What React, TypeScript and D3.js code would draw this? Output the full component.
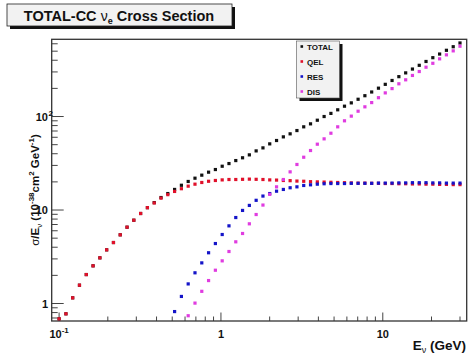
import React, { useEffect, useRef } from "react";
import * as d3 from "d3";

// neutrino energy grid (GeV), shared by all series
const energy = [
  0.1, 0.1102, 0.1213, 0.1336, 0.1472, 0.1621, 0.1786, 0.1967, 0.2167, 0.2386,
  0.2629, 0.2895, 0.3189, 0.3513, 0.387, 0.4262, 0.4695, 0.5172, 0.5697, 0.6275,
  0.6912, 0.7614, 0.8387, 0.9239, 1.018, 1.121, 1.235, 1.36, 1.498, 1.65,
  1.818, 2.002, 2.206, 2.43, 2.676, 2.948, 3.247, 3.577, 3.94, 4.34,
  4.78, 5.266, 5.8, 6.389, 7.038, 7.752, 8.539, 9.404, 10.36, 11.41,
  12.57, 13.85, 15.25, 16.8, 18.5, 20.38, 22.45, 24.73, 27.24, 30.0,
];

// sigma/E (1e-38 cm2 GeV-1)
const totalXs = [
  0.686, 0.776, 1.15, 1.57, 2.04, 2.53, 3.08, 3.75, 4.49, 5.43,
  6.55, 7.78, 9.18, 10.6, 12.0, 13.6, 15.0, 16.6, 18.4, 20.2,
  21.9, 23.6, 25.4, 27.1, 29.4, 31.4, 33.8, 36.2, 38.9, 42.9,
  46.2, 51.0, 55.4, 60.6, 65.3, 70.8, 77.6, 83.5, 91.3, 100,
  108, 118, 129, 140, 153, 167, 183, 201, 221, 243,
  267, 293, 322, 353, 388, 426, 466, 511, 558, 612,
];
const qelXs = [
  0.686, 0.776, 1.15, 1.57, 2.04, 2.53, 3.08, 3.75, 4.49, 5.43,
  6.55, 7.78, 9.18, 10.6, 11.9, 13.4, 14.6, 15.8, 16.9, 18.0,
  18.9, 19.7, 20.3, 20.7, 21.0, 21.2, 21.2, 21.3, 21.4, 21.3,
  21.2, 21.0, 20.9, 20.7, 20.6, 20.4, 20.3, 20.1, 20.0, 19.9,
  19.8, 19.7, 19.6, 19.5, 19.4, 19.4, 19.3, 19.3, 19.2, 19.2,
  19.1, 19.1, 19.0, 19.0, 18.9, 18.9, 18.8, 18.8, 18.7, 18.7,
];
// RES starts at energy[17], DIS at energy[19]
const resStart = 17;
const resXs = [
  0.82, 1.19, 1.62, 2.13, 2.72, 3.49, 4.38, 5.47, 6.77, 8.31,
  9.9, 11.2, 12.7, 14.1, 15.0, 15.9, 16.6, 17.3, 17.7, 18.3,
  18.6, 18.9, 19.1, 19.2, 19.2, 19.2, 19.3, 19.3, 19.3, 19.3,
  19.4, 19.4, 19.4, 19.5, 19.5, 19.6, 19.6, 19.6, 19.5, 19.5,
  19.4, 19.4, 19.4,
];
const disStart = 19;
const disXs = [
  0.74, 1.01, 1.35, 1.76, 2.27, 2.86, 3.6, 4.57, 5.61, 7.12,
  8.95, 11.3, 14.7, 17.7, 21.2, 25.6, 30.7, 36.7, 43.3, 50.6,
  57.7, 66.3, 77.6, 90.0, 101, 114, 127, 141, 159, 179,
  199, 224, 247, 275, 303, 337, 371, 414, 457, 504,
  565,
];

const seriesNames = ["TOTAL", "QEL", "RES", "DIS"];
const seriesColors = ["#111111", "#e0102a", "#1414c8", "#e03ce0"];

const xMajor = [0.1, 1, 10];
const xMajorLabels = ["10", "1", "10"];
const yMajor = [1, 10, 100];
const yMajorLabels = ["1", "10", "10"];

const FONT = "'Liberation Sans', Arial, Helvetica, sans-serif";

const Chart = () => {
  const ref = useRef<SVGSVGElement>(null);

  useEffect(() => {
    const width = 474;
    const height = 353;
    const left = 51.7,
      right = 466.7,
      top = 39.3,
      bottom = 321;

    const x = d3.scaleLog().domain([0.09, 33]).range([left, right]);
    const y = d3.scaleLog().domain([0.65, 670]).range([bottom, top]);

    const svg = d3.select(ref.current);
    svg.selectAll("*").remove();
    svg.attr("width", width).attr("height", height);

    svg.append("rect").attr("width", width).attr("height", height).attr("fill", "#fff");

    // ticks, drawn inward like ROOT
    const xMinor: number[] = [];
    const yMinor: number[] = [];
    [0.1, 1, 10].forEach((d) => {
      for (let k = 2; k <= 9; k++) if (d * k < 33) xMinor.push(d * k);
    });
    [0.1, 1, 10, 100].forEach((d) => {
      for (let k = 2; k <= 9; k++) {
        const v = d * k;
        if (v > 0.65 && v < 670 && !yMajor.includes(v)) yMinor.push(v);
      }
    });

    const ticks = svg.append("g").attr("stroke", "#444").attr("stroke-width", 1);
    ticks
      .selectAll("line.xmaj")
      .data(xMajor)
      .join("line")
      .attr("x1", (d) => x(d))
      .attr("x2", (d) => x(d))
      .attr("y1", bottom)
      .attr("y2", bottom - 8.5);
    ticks
      .selectAll("line.xmin")
      .data(xMinor)
      .join("line")
      .attr("x1", (d) => x(d))
      .attr("x2", (d) => x(d))
      .attr("y1", bottom)
      .attr("y2", bottom - 4.5);
    ticks
      .selectAll("line.ymaj")
      .data(yMajor)
      .join("line")
      .attr("y1", (d) => y(d))
      .attr("y2", (d) => y(d))
      .attr("x1", left)
      .attr("x2", left + 12);
    ticks
      .selectAll("line.ymin")
      .data(yMinor)
      .join("line")
      .attr("y1", (d) => y(d))
      .attr("y2", (d) => y(d))
      .attr("x1", left)
      .attr("x2", left + 6);

    // frame
    svg
      .append("rect")
      .attr("x", left)
      .attr("y", top)
      .attr("width", right - left)
      .attr("height", bottom - top)
      .attr("fill", "none")
      .attr("stroke", "#333")
      .attr("stroke-width", 1.3);

    // points
    const series = [
      totalXs.map((v, i) => [energy[i], v]),
      qelXs.map((v, i) => [energy[i], v]),
      resXs.map((v, i) => [energy[i + resStart], v]),
      disXs.map((v, i) => [energy[i + disStart], v]),
    ];
    const m = 3.2;
    series.forEach((pts, si) => {
      svg
        .append("g")
        .attr("fill", seriesColors[si])
        .selectAll("rect")
        .data(pts.filter((p) => p[1] >= 0.65 && p[1] <= 670))
        .join("rect")
        .attr("x", (d) => x(d[0]) - m / 2)
        .attr("y", (d) => y(d[1]) - m / 2)
        .attr("width", m)
        .attr("height", m);
    });

    // tick labels
    const lab = svg
      .append("g")
      .attr("font-family", FONT)
      .attr("font-weight", "bold")
      .attr("font-size", 11)
      .attr("fill", "#111");
    xMajor.forEach((d, i) => {
      const t = lab
        .append("text")
        .attr("x", x(d))
        .attr("y", 338)
        .attr("text-anchor", "middle");
      t.append("tspan").text(xMajorLabels[i]);
      if (d === 0.1) t.append("tspan").attr("dy", -5).attr("font-size", 8).text("-1");
    });
    yMajor.forEach((d, i) => {
      const t = lab
        .append("text")
        .attr("x", 48)
        .attr("y", y(d) + 4)
        .attr("text-anchor", "end");
      t.append("tspan").text(yMajorLabels[i]);
    });
    lab
      .append("text")
      .attr("x", 48.5)
      .attr("y", y(100) + 4)
      .attr("font-size", 8)
      .attr("dy", -5)
      .text("2");

    // axis titles
    const xt = lab
      .append("text")
      .attr("x", 466)
      .attr("y", 349.5)
      .attr("text-anchor", "end")
      .attr("font-size", 13.5);
    xt.append("tspan").text("E");
    xt.append("tspan").attr("dy", 3).attr("font-size", 9).attr("font-weight", "normal").text("ν");
    xt.append("tspan").attr("dy", -3).text(" (GeV)");

    const yt = lab
      .append("text")
      .attr("transform", `translate(38.5,${190}) rotate(-90)`)
      .attr("text-anchor", "middle")
      .attr("font-size", 11.5);
    yt.append("tspan").attr("font-weight", "normal").text("σ");
    yt.append("tspan").text("/E");
    yt.append("tspan").attr("dy", 3).attr("font-size", 8).attr("font-weight", "normal").text("ν");
    yt.append("tspan").attr("dy", -3).text(" (10");
    yt.append("tspan").attr("dy", -5).attr("font-size", 8).text("-38");
    yt.append("tspan").attr("dy", 5).text("cm");
    yt.append("tspan").attr("dy", -5).attr("font-size", 8).text("2");
    yt.append("tspan").attr("dy", 5).text(" GeV");
    yt.append("tspan").attr("dy", -5).attr("font-size", 8).text("-1");
    yt.append("tspan").attr("dy", 5).text(")");

    // title box
    svg.append("rect").attr("x", 10).attr("y", 7).attr("width", 225).attr("height", 22).attr("fill", "#111");
    svg
      .append("rect")
      .attr("x", 7)
      .attr("y", 4)
      .attr("width", 225)
      .attr("height", 22)
      .attr("fill", "#f2f2f2")
      .attr("stroke", "#222")
      .attr("stroke-width", 0.8);
    const tt = svg
      .append("text")
      .attr("x", 119)
      .attr("y", 20.5)
      .attr("text-anchor", "middle")
      .attr("font-family", FONT)
      .attr("font-weight", "bold")
      .attr("font-size", 14.5)
      .attr("fill", "#111");
    tt.append("tspan").text("TOTAL-CC ");
    tt.append("tspan").attr("font-weight", "normal").attr("font-size", 14).text("ν");
    tt.append("tspan").attr("dy", 3.5).attr("font-size", 9).text("e");
    tt.append("tspan").attr("dy", -3.5).text(" Cross Section");

    // legend
    const lx = 296.5,
      ly = 41,
      lw = 43,
      lh = 57;
    svg.append("rect").attr("x", lx + 3).attr("y", ly + 3).attr("width", lw).attr("height", lh).attr("fill", "#111");
    svg
      .append("rect")
      .attr("x", lx)
      .attr("y", ly)
      .attr("width", lw)
      .attr("height", lh)
      .attr("fill", "#f2f2f2")
      .attr("stroke", "#555")
      .attr("stroke-width", 0.6);
    seriesNames.forEach((name, i) => {
      const cy = 46.5 + i * 15;
      svg
        .append("rect")
        .attr("x", lx + 4)
        .attr("y", cy - 1.3)
        .attr("width", 2.6)
        .attr("height", 2.6)
        .attr("fill", seriesColors[i]);
      svg
        .append("text")
        .attr("x", lx + 10.5)
        .attr("y", cy + 3)
        .attr("font-family", FONT)
        .attr("font-weight", "bold")
        .attr("font-size", 8)
        .attr("fill", "#111")
        .text(name);
    });
  }, []);

  return <svg ref={ref} style={{ position: "absolute", left: 0, top: 0, display: "block" }}></svg>;
};

export default function App() {
  return <Chart />;
}
